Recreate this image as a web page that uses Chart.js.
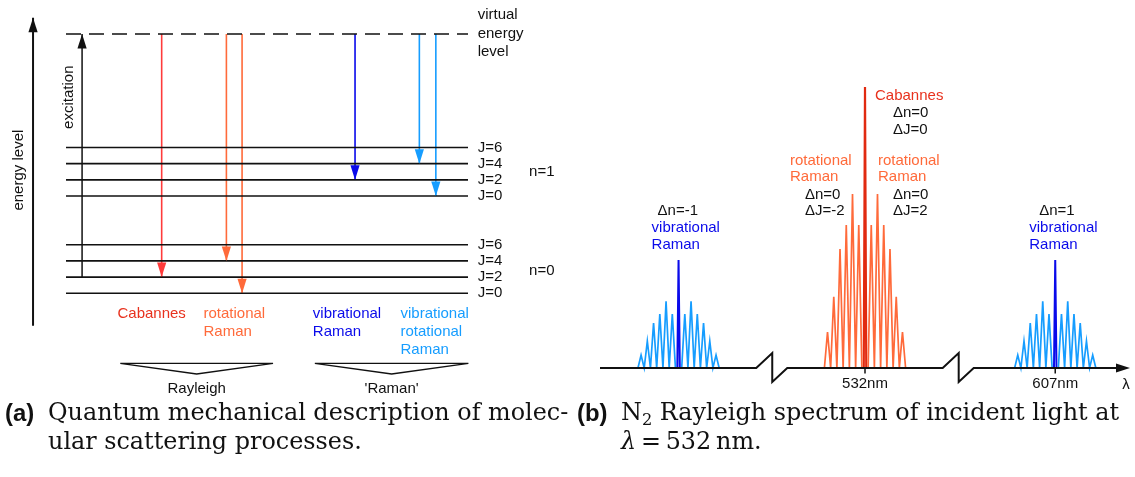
<!DOCTYPE html>
<html lang="en">
<head>
<meta charset="utf-8">
<title>Rayleigh scattering</title>
<script src="https://cdn.jsdelivr.net/npm/chart.js@4.4.1/dist/chart.umd.min.js"></script>
<style>
  body { margin: 0; background: #fff; }
  .figura { position: relative; width: 1135px; height: 477px; overflow: hidden; }
  #niveis { position: absolute; left: 0; top: 0; }
  #espectro { position: absolute; left: 570px; top: 0; }
  .legenda { position: absolute; font-family: "DejaVu Serif", serif; font-size: 22px; color: #111; white-space: nowrap; line-height: 29px; }
  .legenda b { font-family: "Liberation Sans", sans-serif; }
  .legenda sub { font-size: 0.68em; vertical-align: -0.3em; line-height: 0; }
</style>
</head>
<body>
<div class="figura">
  <canvas id="niveis" width="570" height="400"></canvas>
  <canvas id="espectro" width="565" height="400"></canvas>
  <div class="legenda" style="left:5px;top:398px"><b>(a)</b></div>
  <div class="legenda linha1" id="capA" style="left:48px;top:398px">Quantum mechanical description of molec-</div>
  <div class="legenda" style="left:48px;top:427px">ular scattering processes.</div>
  <div class="legenda" style="left:577px;top:398px"><b>(b)</b></div>
  <div class="legenda linha1" id="capB" style="left:621px;top:398px">N<sub>2</sub> Rayleigh spectrum of incident light at</div>
  <div class="legenda" style="left:621px;top:427px"><i>λ</i>&#8201;=&#8201;532&#8201;nm.</div>
</div>
<script>
// ---------- Dados do diagrama de niveis (a) ----------
// energia em unidades arbitrarias (1 = distancia entre dois niveis J)
const rotulosJ = ['J=0', 'J=2', 'J=4', 'J=6'];
const niveisN0 = [0, 1, 2, 3];
const niveisN1 = [6, 7, 8, 9];
const nivelVirtual = 16;
// transicoes saindo do nivel virtual: posicao horizontal (0-100) e nivel de chegada
const transX = [23.8, 39.9, 43.8, 71.9, 87.9, 92.0];
const transDestino = [1, 2, 0, 7, 8, 6];

// ---------- Dados do espectro (b) ----------
const centrosGrupos = [-0.985, 0, 1.005];     // Stokes/anti-Stokes e 532nm
const espacamentoRot = 0.033;
const picoCabannes = 100;
const picosRotRaman = [50.9, 61.9, 50.9, 42.3, 25.3, 12.8];   // |dJ| = 1..6
const picoVibRaman = 38.4;
const picosVibRot = [19.2, 23.7, 19.2, 16.0, 9.6, 4.6];
const rotulosTicks = ['532nm', '607nm'];
const quebrasEixo = [-0.49, 0.495];

// cores
const vermelho = '#ff3b3b', vermelhoTxt = '#e8321e', laranja = '#ff6a3a';
const azul = '#0a0aea', azulClaro = '#169dff', preto = '#111';
const fonte = '15px "Liberation Sans", Arial, sans-serif';

// Função para desenhar a ponta de uma seta
function ponta(ctx, x, y, dir, cor, comp, larg) {
    ctx.save();
    ctx.fillStyle = cor;
    ctx.beginPath();
    ctx.moveTo(x, y);
    if (dir === 'x') {
        ctx.lineTo(x - comp, y - larg);
        ctx.lineTo(x - comp, y + larg);
    } else {
        ctx.lineTo(x - larg, y - dir * comp);
        ctx.lineTo(x + larg, y - dir * comp);
    }
    ctx.closePath();
    ctx.fill();
    ctx.restore();
}

function texto(ctx, s, x, y, cor, alinh) {
    ctx.fillStyle = cor;
    ctx.font = fonte;
    ctx.textAlign = alinh || 'left';
    ctx.textBaseline = 'middle';
    ctx.fillText(s, x, y);
}

function linha(pontos, cor, largura, extra) {
    return Object.assign({
        data: pontos, showLine: true, borderColor: cor, borderWidth: largura,
        pointRadius: 0, fill: false, clip: false, tension: 0
    }, extra || {});
}

// ---------- Grafico (a): niveis de energia ----------
var dsNiveis = [];
niveisN0.concat(niveisN1).forEach(function (e) {
    dsNiveis.push(linha([{ x: 0, y: e }, { x: 100, y: e }], preto, 1.6));
});
dsNiveis.push(linha([{ x: 0, y: nivelVirtual }, { x: 100, y: nivelVirtual }], preto, 1.6, { borderDash: [15, 8] }));
// eixo de energia e excitacao
dsNiveis.push(linha([{ x: -8.2, y: -2 }, { x: -8.2, y: 17 }], preto, 2, { seta: true }));
dsNiveis.push(linha([{ x: 4, y: niveisN0[1] }, { x: 4, y: nivelVirtual }], preto, 1.5, { seta: true }));
var corTrans = [vermelho, laranja, laranja, azul, azulClaro, azulClaro];
transX.forEach(function (x, i) {
    dsNiveis.push(linha([{ x: x, y: nivelVirtual }, { x: x, y: transDestino[i] }], corTrans[i], 1.6, { seta: true }));
});
// chaves "Rayleigh" e "'Raman'"
[[13.5, 51.5], [61.9, 100.1]].forEach(function (c) {
    var m = (c[0] + c[1]) / 2;
    dsNiveis.push(linha([{ x: c[0], y: -4.32 }, { x: c[1], y: -4.32 }, { x: m, y: -4.98 }, { x: c[0], y: -4.32 }], preto, 1.3));
});

const pluginNiveis = {
    id: 'niveisTexto',
    afterDatasetsDraw(chart) {
        const ctx = chart.ctx;
        const px = v => chart.scales.x.getPixelForValue(v);
        const py = v => chart.scales.y.getPixelForValue(v);
        chart.data.datasets.forEach(function (ds, i) {
            if (!ds.seta) return;
            const d = chart.getDatasetMeta(i).data;
            const a = d[0], b = d[d.length - 1];
            ponta(ctx, b.x, b.y, b.y > a.y ? 1 : -1, ds.borderColor, 14.5, 4.6);
        });
        niveisN0.forEach((e, i) => texto(ctx, rotulosJ[i], px(102.4), py(e), preto));
        niveisN1.forEach((e, i) => texto(ctx, rotulosJ[i], px(102.4), py(e), preto));
        texto(ctx, 'n=0', px(115.2), py(1.4), preto);
        texto(ctx, 'n=1', px(115.2), py(7.5), preto);
        const yv = py(nivelVirtual);
        texto(ctx, 'virtual', px(102.4), yv - 19, preto);
        texto(ctx, 'energy', px(102.4), yv, preto);
        texto(ctx, 'level', px(102.4), yv + 17.5, preto);

        // textos verticais
        [['energy level', px(-8.2) - 14, py(7.6)], ['excitation', px(4) - 13.4, py(12.1)]].forEach(function (t) {
            ctx.save();
            ctx.translate(t[1], t[2]);
            ctx.rotate(-Math.PI / 2);
            texto(ctx, t[0], 0, 0, preto, 'center');
            ctx.restore();
        });

        const y0 = py(0);
        const passo = 17.8;
        texto(ctx, 'Cabannes', px(12.8), y0 + 20.7, vermelhoTxt);
        ['rotational', 'Raman'].forEach((s, k) => texto(ctx, s, px(34.2), y0 + 20.7 + k * passo, laranja));
        ['vibrational', 'Raman'].forEach((s, k) => texto(ctx, s, px(61.4), y0 + 20.7 + k * passo, azul));
        ['vibrational', 'rotational', 'Raman'].forEach((s, k) => texto(ctx, s, px(83.2), y0 + 20.7 + k * passo, azulClaro));
        texto(ctx, 'Rayleigh', px(32.5), y0 + 95.7, preto, 'center');
        texto(ctx, "'Raman'", px(81), y0 + 95.7, preto, 'center');
    }
};

new Chart(document.getElementById('niveis'), {
    type: 'scatter',
    data: { datasets: dsNiveis },
    options: {
        responsive: false, animation: false, devicePixelRatio: 1,
        layout: { padding: { left: 66, right: 102, top: 34, bottom: 106.7 } },
        plugins: { legend: { display: false }, tooltip: { enabled: false } },
        scales: {
            x: { type: 'linear', min: 0, max: 100, display: false },
            y: { type: 'linear', min: 0, max: nivelVirtual, display: false }
        }
    },
    plugins: [pluginNiveis]
});

// ---------- Grafico (b): espectro ----------
// linha em zigue-zague: cada pico e um triangulo apoiado na linha de base
function zigueZague(centro, picos) {
    var pts = [];
    for (var k = picos.length; k >= 1; k--) {
        pts.push({ x: centro - (k + 0.5) * espacamentoRot, y: 0 });
        pts.push({ x: centro - k * espacamentoRot, y: picos[k - 1] });
    }
    pts.push({ x: centro - 0.5 * espacamentoRot, y: 0 });
    pts.push({ x: centro + 0.5 * espacamentoRot, y: 0 });
    for (var k = 1; k <= picos.length; k++) {
        pts.push({ x: centro + k * espacamentoRot, y: picos[k - 1] });
        pts.push({ x: centro + (k + 0.5) * espacamentoRot, y: 0 });
    }
    return pts;
}
function picoCentral(centro, h) {
    var d = 0.2 * espacamentoRot;
    return [{ x: centro - d, y: 0 }, { x: centro, y: h }, { x: centro + d, y: 0 }];
}

var dsEspectro = [
    linha(zigueZague(centrosGrupos[0], picosVibRot), azulClaro, 1.7),
    linha(picoCentral(centrosGrupos[0], picoVibRaman), azul, 2),
    linha(zigueZague(centrosGrupos[1], picosRotRaman), laranja, 1.7),
    linha(picoCentral(centrosGrupos[1], picoCabannes), '#e12a10', 2.2),
    linha(zigueZague(centrosGrupos[2], picosVibRot), azulClaro, 1.7),
    linha(picoCentral(centrosGrupos[2], picoVibRaman), azul, 2)
];

// rotulos: [texto, grupo, deslocamento x em px, altura (intensidade), cor]
const rotulosEspectro = [
    ['Cabannes', 1, 10, 96.8, vermelhoTxt],
    ['Δn=0', 1, 28, 90.7, preto],
    ['ΔJ=0', 1, 28, 84.7, preto],
    ['rotational', 1, -75, 73.8, laranja],
    ['Raman', 1, -75, 68.0, laranja],
    ['Δn=0', 1, -60, 61.7, preto],
    ['ΔJ=-2', 1, -60, 56.0, preto],
    ['rotational', 1, 13, 73.8, laranja],
    ['Raman', 1, 13, 68.0, laranja],
    ['Δn=0', 1, 28, 61.7, preto],
    ['ΔJ=2', 1, 28, 56.0, preto],
    ['Δn=-1', 0, -21, 56.0, preto],
    ['vibrational', 0, -27, 49.8, azul],
    ['Raman', 0, -27, 43.8, azul],
    ['Δn=1', 2, -16, 56.0, preto],
    ['vibrational', 2, -26, 49.8, azul],
    ['Raman', 2, -26, 43.8, azul]
];

const pluginEspectro = {
    id: 'espectroEixo',
    afterDatasetsDraw(chart) {
        const ctx = chart.ctx;
        const sx = chart.scales.x, sy = chart.scales.y;
        const y0 = sy.getPixelForValue(0);
        const xFim = sx.getPixelForValue(sx.max);

        // linha de base com as quebras do eixo
        ctx.save();
        ctx.strokeStyle = preto;
        ctx.lineWidth = 2;
        ctx.lineJoin = 'miter';
        ctx.beginPath();
        ctx.moveTo(sx.getPixelForValue(sx.min), y0);
        quebrasEixo.forEach(function (q) {
            const b = sx.getPixelForValue(q);
            ctx.lineTo(b - 16, y0);
            ctx.lineTo(b, y0 - 15);
            ctx.lineTo(b, y0 + 14);
            ctx.lineTo(b + 15, y0);
        });
        ctx.lineTo(xFim - 12, y0);
        ctx.stroke();
        ponta(ctx, xFim, y0, 'x', preto, 14, 4.5);

        // ticks
        ctx.lineWidth = 1.5;
        [centrosGrupos[1], centrosGrupos[2]].forEach(function (t, i) {
            const x = sx.getPixelForValue(t);
            ctx.beginPath();
            ctx.moveTo(x, y0);
            ctx.lineTo(x, y0 + 5.5);
            ctx.stroke();
            texto(ctx, rotulosTicks[i], x, y0 + 15.5, preto, 'center');
        });
        ctx.restore();
        texto(ctx, 'λ', xFim - 4, y0 + 17, preto, 'center');

        rotulosEspectro.forEach(function (r) {
            texto(ctx, r[0], sx.getPixelForValue(centrosGrupos[r[1]]) + r[2], sy.getPixelForValue(r[3]), r[4]);
        });
    }
};

new Chart(document.getElementById('espectro'), {
    type: 'scatter',
    data: { datasets: dsEspectro },
    options: {
        responsive: false, animation: false, devicePixelRatio: 1,
        layout: { padding: { left: 30, right: 5, top: 87, bottom: 32 } },
        plugins: { legend: { display: false }, tooltip: { enabled: false } },
        scales: {
            x: { type: 'linear', min: -1.4, max: 1.4, display: false },
            y: { type: 'linear', min: 0, max: picoCabannes, display: false }
        }
    },
    plugins: [pluginEspectro]
});

// ajusta o tamanho da fonte das legendas para caber na largura da figura
var capA = document.getElementById('capA');
var tam = 22 * 520 / capA.offsetWidth;
document.querySelectorAll('.legenda').forEach(function (el) { el.style.fontSize = tam.toFixed(2) + 'px'; });
</script>
</body>
</html>
